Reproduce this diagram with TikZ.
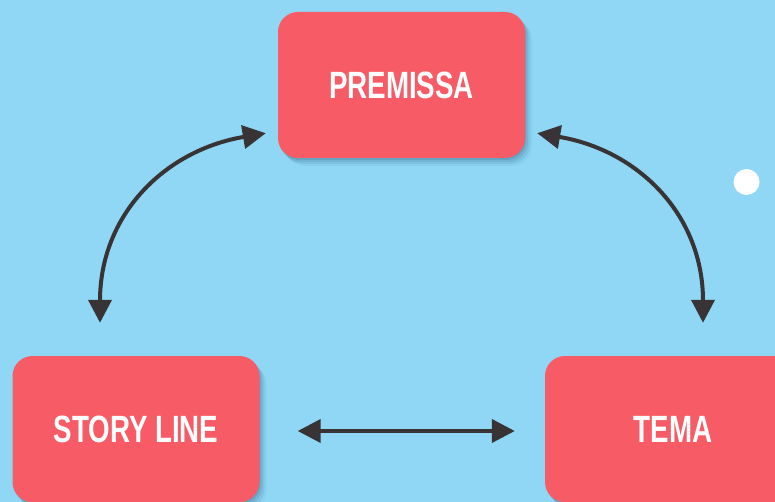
\documentclass[tikz,border=0pt]{standalone}
\usepackage{fontspec}
\newfontfamily\boxfont[FakeStretch=0.73]{Liberation Sans}
\usetikzlibrary{arrows.meta,shadows}
\definecolor{bg}{HTML}{8FD7F5}
\definecolor{boxred}{HTML}{F75B65}
\definecolor{arrowgray}{HTML}{383335}
\definecolor{shadowblue}{RGB}{30,80,110}
\begin{document}
\begin{tikzpicture}[x=1pt,y=-1pt,
  box/.style={fill=boxred, rounded corners=20pt, minimum width=247pt,
    minimum height=146pt, inner sep=0pt, text=white,
    font=\boxfont\bfseries\fontsize{38}{38}\selectfont,
    drop shadow={shadow xshift=1pt, shadow yshift=-2pt, opacity=0.16, fill=shadowblue},
    drop shadow={shadow xshift=3pt, shadow yshift=-4pt, opacity=0.13, fill=shadowblue},
    drop shadow={shadow xshift=5pt, shadow yshift=-6pt, opacity=0.09, fill=shadowblue},
    drop shadow={shadow xshift=7pt, shadow yshift=-8pt, opacity=0.05, fill=shadowblue}},
  arr/.style={draw=arrowgray, line width=4pt,
    {Triangle[length=23pt,width=23pt]}-{Triangle[length=23pt,width=23pt]}}]
  \fill[bg] (0,0) rectangle (775,502);
  \useasboundingbox (0,0) rectangle (775,502);
  \node[box] (prem) at (401.5,85) {PREMISSA};
  \node[box] (sl) at (136,429) {STORY LINE};
  \node[box, minimum width=256pt] (tema) at (673,429) {TEMA};
  \fill[white] (746.5,182) circle (13pt);
  \draw[arr] ([shift={(-36,-33)}]sl.north) .. controls +(0,-108) and +(-101,17) .. ([shift={(-12,-25)}]prem.south west);
  \draw[arr] ([shift={(12,-25)}]prem.south east) .. controls +(101,17) and +(0,-108) .. ([shift={(30,-33)}]tema.north);
  \draw[arr] ([shift={(38,2)}]sl.east) -- ([shift={(-30,2)}]tema.west);
\end{tikzpicture}
\end{document}
